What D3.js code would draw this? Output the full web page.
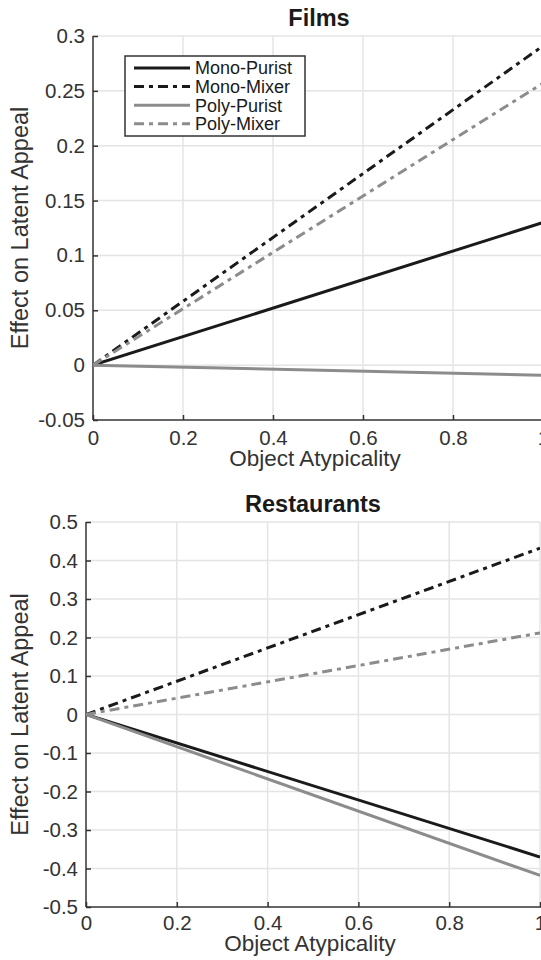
<!DOCTYPE html>
<html lang="en">
<head>
<meta charset="UTF-8">
<title>Effect on Latent Appeal</title>
<script src="https://d3js.org/d3.v7.min.js"></script>
<style>
  body { margin: 0; background: #fff; }
  svg { display: block; font-family: "Liberation Sans", Arial, Helvetica, sans-serif; }
</style>
</head>
<body>
<svg id="main" width="541" height="960"></svg>
<script>
// data (lines run from x=0 to x=1)
const seriesNames = ['Mono-Purist', 'Mono-Mixer', 'Poly-Purist', 'Poly-Mixer'];
const xVals = [0, 1];
const filmsVals = [[0, 0.130], [0, 0.291], [0, -0.0092], [0, 0.257]];
const restaurantVals = [[0, -0.370], [0, 0.432], [0, -0.418], [0, 0.212]];
const xTicks = [0, 0.2, 0.4, 0.6, 0.8, 1];
const filmsYTicks = [-0.05, 0, 0.05, 0.1, 0.15, 0.2, 0.25, 0.3];
const restaurantYTicks = [-0.5, -0.4, -0.3, -0.2, -0.1, 0, 0.1, 0.2, 0.3, 0.4, 0.5];

const lineColors = ['#1a1a1a', '#1a1a1a', '#8c8c8c', '#8c8c8c'];
const lineDash = [null, '10,5,4,5', null, '10,5,4,5'];
const textCol = '#333';

const svg = d3.select('#main');

function fmt(d) { return String(+d.toFixed(2)); }

function panel(opt) {
  const x = d3.scaleLinear().domain([0, 1]).range([opt.left, opt.right]);
  const y = d3.scaleLinear().domain(opt.yDomain).range([opt.bottom, opt.top]);
  const g = svg.append('g');

  const clipId = 'clip' + opt.id;
  g.append('clipPath').attr('id', clipId).append('rect')
    .attr('x', opt.left).attr('y', opt.top)
    .attr('width', opt.right - opt.left).attr('height', opt.bottom - opt.top);

  // grid
  g.selectAll('.gx').data(xTicks.filter(d => d > 0)).enter().append('line')
    .attr('x1', d => x(d)).attr('x2', d => x(d))
    .attr('y1', opt.top).attr('y2', opt.bottom)
    .attr('stroke', '#e4e4e4').attr('stroke-width', 1.5);
  g.selectAll('.gy').data(opt.yTicks.filter(d => d > opt.yDomain[0])).enter().append('line')
    .attr('x1', opt.left).attr('x2', opt.right)
    .attr('y1', d => y(d)).attr('y2', d => y(d))
    .attr('stroke', '#e4e4e4').attr('stroke-width', 1.5);

  // axes (ticks point inward)
  const ax = g.append('g').attr('transform', `translate(0,${opt.bottom})`)
    .call(d3.axisBottom(x).tickValues(xTicks).tickSize(-5).tickPadding(opt.xPad).tickFormat(fmt));
  const ay = g.append('g').attr('transform', `translate(${opt.left},0)`)
    .call(d3.axisLeft(y).tickValues(opt.yTicks).tickSize(-5).tickPadding(8).tickFormat(fmt));
  [ax, ay].forEach(a => {
    a.select('.domain').attr('stroke', textCol).attr('stroke-width', 1.5)
      .attr('d', a === ax ? `M${opt.left},0H${opt.right + 10}` : `M0,${opt.bottom}V${opt.top}`);
    a.selectAll('.tick line').attr('stroke', textCol).attr('stroke-width', 1.5);
    a.selectAll('.tick text').attr('fill', textCol).style('font-size', '20.5px');
  });
  ax.selectAll('.tick text').attr('dy', '0.71em');

  // lines
  const line = d3.line().x((d, i) => x(xVals[i])).y(d => y(d));
  g.append('g').attr('clip-path', `url(#${clipId})`)
    .selectAll('path').data(opt.vals).enter().append('path')
    .attr('d', d => line(d))
    .attr('fill', 'none')
    .attr('stroke', (d, i) => lineColors[i])
    .attr('stroke-width', 3)
    .attr('stroke-dasharray', (d, i) => lineDash[i]);

  // title and labels
  g.append('text').attr('x', opt.titleX).attr('y', opt.titleY)
    .attr('text-anchor', 'middle').attr('font-weight', 'bold')
    .style('font-size', '23.5px').attr('fill', '#1a1a1a').text(opt.title);
  g.append('text').attr('x', opt.xLabelX).attr('y', opt.xLabelY)
    .attr('text-anchor', 'middle').style('font-size', '22.5px')
    .attr('fill', textCol).text('Object Atypicality');
  g.append('text')
    .attr('transform', `translate(28,${(opt.top + opt.bottom) / 2}) rotate(-90)`)
    .attr('text-anchor', 'middle').style('font-size', '23.5px')
    .attr('fill', textCol).text('Effect on Latent Appeal');

  return { x, y, g };
}

panel({
  id: 'films', left: 93, right: 543, top: 36, bottom: 420, xPad: 10,
  yDomain: [-0.05, 0.3], yTicks: filmsYTicks, vals: filmsVals,
  title: 'Films', titleX: 319, titleY: 26,
  xLabelX: 315, xLabelY: 466
});

panel({
  id: 'rest', left: 86, right: 540, top: 522, bottom: 907, xPad: 8,
  yDomain: [-0.5, 0.5], yTicks: restaurantYTicks, vals: restaurantVals,
  title: 'Restaurants', titleX: 313, titleY: 512,
  xLabelX: 310, xLabelY: 951
});

// legend (films panel only)
const leg = svg.append('g');
leg.append('rect').attr('x', 125).attr('y', 56).attr('width', 180).attr('height', 80)
  .attr('fill', '#fff').attr('stroke', '#333').attr('stroke-width', 1.5);
seriesNames.forEach((name, i) => {
  const yy = 68 + i * 18.6;
  leg.append('line').attr('x1', 134).attr('x2', 190).attr('y1', yy).attr('y2', yy)
    .attr('stroke', lineColors[i]).attr('stroke-width', 3)
    .attr('stroke-dasharray', lineDash[i]);
  leg.append('text').attr('x', 195).attr('y', yy).attr('dy', '0.35em')
    .style('font-size', '18px').attr('fill', '#1a1a1a').text(name);
});
</script>
</body>
</html>
